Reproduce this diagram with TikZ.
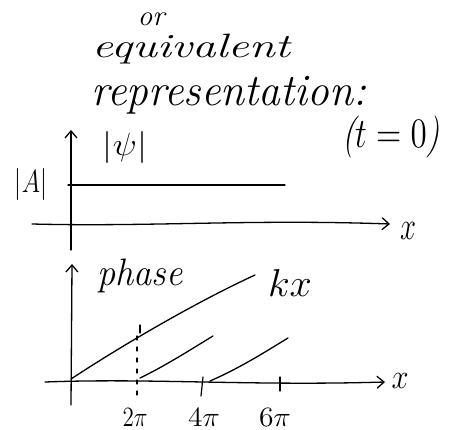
\documentclass[tikz,border=0pt]{standalone}
\usepackage{fontspec}
\usepackage{graphicx}
\usetikzlibrary{arrows.meta}
\newcommand\fitwh[3]{\resizebox*{#1}{#2}{#3}}
\tikzset{
  hand/.style={font=\itshape\Large, inner sep=0pt, text=black},
  pen/.style={line width=1.3pt, line cap=round, line join=round, black},
  axis/.style={pen, -{Straight Barb[length=7pt,width=12pt,line width=1.3pt]}},
  tickmark/.style={line width=1.2pt, line cap=round},
}
\begin{document}
\begin{tikzpicture}[x=1pt,y=-1pt]
\useasboundingbox[fill=white] (0,0) rectangle (455,430);
% heading texts
\node[hand] (or) at (151,19) {\fitwh{27pt}{13pt}{or}};
\node[hand] (equiv) at (191,49) {\fitwh{198pt}{30pt}{equivalent}};
\node[hand] (repr) at (229,95) {\fitwh{275pt}{38pt}{representation:}};
\node[hand] (t0) at (391,137) {\fitwh{98pt}{42pt}{($t=0$)}};
% upper plot
\coordinate (uy0) at (71,250);
\coordinate (uy1) at (71,130);
\coordinate (ux0) at (32,224);
\coordinate (ux1) at (390,224);
\coordinate (ua0) at (68,185);
\coordinate (ua1) at (285,185);
\draw[axis] (uy0) -- (uy1);
\draw[axis] (ux0) .. controls (150,227) and (250,219) .. (ux1);
\draw[pen] (ua0) -- (ua1);
\node[hand] (psi) at (125,148) {\fitwh{44pt}{32pt}{$|\psi|$}};
\node[hand] (amp) at (31,185) {\fitwh{32pt}{32pt}{$|A|$}};
\node[hand] (xu) at (408,231) {\fitwh{16pt}{17pt}{$x$}};
% lower plot
\coordinate (ly0) at (71,405);
\coordinate (ly1) at (72,264);
\coordinate (lx0) at (45,382);
\coordinate (lx1) at (385,382);
\draw[axis] (ly0) -- (ly1);
\draw[axis] (lx0) .. controls (150,378) and (250,386) .. (lx1);
\node[hand] (phase) at (140,276) {\fitwh{85pt}{34pt}{phase}};
\node[hand] (kx) at (290,283) {\fitwh{44pt}{27pt}{$kx$}};
\node[hand] (xl) at (400,381) {\fitwh{17pt}{15pt}{$x$}};
% phase lines
\coordinate (k0) at (71,379);
\coordinate (k1) at (255,275);
\draw[pen] (k0) .. controls (115,350) and (190,305) .. (k1);
\coordinate (p0) at (140,378);
\coordinate (p1) at (213,336);
\draw[pen] (p0) .. controls (165,366) and (190,350) .. (p1);
\coordinate (q0) at (210,381);
\coordinate (q1) at (288,338);
\draw[pen] (q0) .. controls (240,368) and (265,352) .. (q1);
% ticks
\coordinate (t2a) at (137,336);
\coordinate (t2b) at (137,399);
\draw[tickmark, dash pattern=on 4pt off 7pt] (t2a) -- (t2b);
\coordinate (t2c) at (140,325);
\coordinate (t2d) at (140,333);
\draw[tickmark] (t2c) -- (t2d);
\coordinate (t4a) at (203,377);
\coordinate (t4b) at (201,396);
\draw[tickmark] (t4a) -- (t4b);
\coordinate (t6a) at (280,377);
\coordinate (t6b) at (280,391);
\draw[tickmark] (t6a) -- (t6b);
\node[hand] (l2) at (135,417) {\fitwh{25pt}{18pt}{$2\pi$}};
\node[hand] (l4) at (204,417) {\fitwh{32pt}{18pt}{$4\pi$}};
\node[hand] (l6) at (275,417) {\fitwh{32pt}{18pt}{$6\pi$}};
\end{tikzpicture}
\end{document}
